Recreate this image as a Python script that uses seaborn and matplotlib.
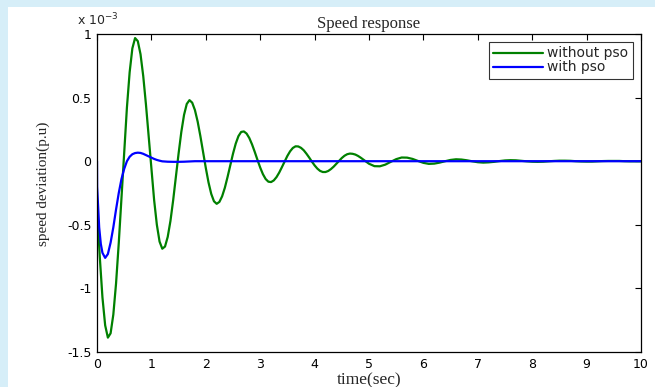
import matplotlib
matplotlib.use("Agg")
import matplotlib.pyplot as plt
import seaborn as sns
import pandas as pd
from matplotlib.patches import Rectangle

# ---- data (speed deviation in units of 1e-3 p.u.) ----
t_without = [0.00, 0.05, 0.10, 0.15, 0.20, 0.25, 0.30, 0.35, 0.40, 0.45,
             0.50, 0.55, 0.60, 0.65, 0.70, 0.75, 0.80, 0.85, 0.90, 0.95,
             1.00, 1.05, 1.10, 1.15, 1.20, 1.25, 1.30, 1.35, 1.40, 1.45,
             1.50, 1.55, 1.60, 1.65, 1.70, 1.75, 1.80, 1.85, 1.90, 1.95,
             2.00, 2.05, 2.10, 2.15, 2.20, 2.25, 2.30, 2.35, 2.40, 2.45,
             2.50, 2.55, 2.60, 2.65, 2.70, 2.75, 2.80, 2.85, 2.90, 2.95,
             3.00, 3.05, 3.10, 3.15, 3.20, 3.25, 3.30, 3.35, 3.40, 3.45,
             3.50, 3.55, 3.60, 3.65, 3.70, 3.75, 3.80, 3.85, 3.90, 3.95,
             4.00, 4.05, 4.10, 4.15, 4.20, 4.25, 4.30, 4.35, 4.40, 4.45,
             4.50, 4.55, 4.60, 4.65, 4.70, 4.75, 4.80, 4.85, 4.90, 4.95,
             5.00, 5.10, 5.20, 5.30, 5.40, 5.50, 5.60, 5.70, 5.80, 5.90,
             6.00, 6.10, 6.20, 6.30, 6.40, 6.50, 6.60, 6.70, 6.80, 6.90,
             7.00, 7.10, 7.20, 7.30, 7.40, 7.50, 7.60, 7.70, 7.80, 7.90,
             8.00, 8.10, 8.20, 8.30, 8.40, 8.50, 8.60, 8.70, 8.80, 8.90,
             9.00, 9.10, 9.20, 9.30, 9.40, 9.50, 9.60, 9.70, 9.80, 9.90,
             10.00]
v_without = [-0.350, -0.745, -1.070, -1.290, -1.387, -1.353, -1.206, -0.962, -0.644, -0.284,
             0.084, 0.422, 0.699, 0.887, 0.968, 0.944, 0.841, 0.669, 0.445, 0.192,
             -0.067, -0.305, -0.499, -0.632, -0.688, -0.671, -0.595, -0.470, -0.307, -0.123,
             0.061, 0.230, 0.364, 0.450, 0.480, 0.460, 0.402, 0.312, 0.198, 0.073,
             -0.053, -0.167, -0.257, -0.315, -0.335, -0.320, -0.276, -0.209, -0.124, -0.031,
             0.059, 0.138, 0.197, 0.230, 0.234, 0.217, 0.182, 0.132, 0.073, 0.010,
             -0.050, -0.102, -0.140, -0.161, -0.164, -0.151, -0.125, -0.089, -0.046, -0.001,
             0.042, 0.078, 0.104, 0.117, 0.116, 0.105, 0.086, 0.059, 0.029, -0.003,
             -0.033, -0.058, -0.076, -0.085, -0.085, -0.077, -0.062, -0.043, -0.020, 0.003,
             0.025, 0.043, 0.055, 0.060, 0.058, 0.052, 0.041, 0.027, 0.011, -0.005,
             -0.020, -0.039, -0.040, -0.027, -0.005, 0.016, 0.029, 0.028, 0.018, 0.002,
             -0.013, -0.021, -0.019, -0.011, 0.000, 0.010, 0.015, 0.013, 0.007, -0.001,
             -0.008, -0.011, -0.009, -0.005, 0.001, 0.006, 0.008, 0.007, 0.003, -0.001,
             -0.004, -0.005, -0.004, -0.001, 0.002, 0.004, 0.004, 0.003, 0.000, -0.002,
             -0.003, -0.003, -0.001, 0.001, 0.002, 0.002, 0.002, 0.000, -0.001, -0.001,
             -0.001]

t_with = [0.000, 0.002, 0.020, 0.040, 0.070, 0.100, 0.150, 0.200, 0.250, 0.300,
          0.350, 0.400, 0.450, 0.500, 0.550, 0.600, 0.650, 0.700, 0.750, 0.800,
          0.850, 0.900, 0.950, 1.000, 1.050, 1.100, 1.150, 1.200, 1.300, 1.400,
          1.500, 1.600, 1.700, 1.800, 2.500, 4.000, 6.000, 8.000, 10.000]
v_with = [0.000, -0.200, -0.350, -0.520, -0.650, -0.720, -0.760, -0.730, -0.640, -0.520,
          -0.380, -0.250, -0.140, -0.060, 0.000, 0.035, 0.055, 0.064, 0.067, 0.065,
          0.058, 0.048, 0.038, 0.028, 0.018, 0.010, 0.004, -0.001, -0.004, -0.005,
          -0.005, -0.004, -0.002, 0.000, 0.000, 0.000, 0.000, 0.000, 0.000]

x_ticks = [0, 1, 2, 3, 4, 5, 6, 7, 8, 9, 10]
y_ticks = [-1.5, -1, -0.5, 0, 0.5, 1]
y_tick_labels = ["-1.5", "-1", "-0.5", "0", "0.5", "1"]
series_names = ["without pso", "with pso"]

# ---- style ----
sns.set_style("white")
plt.rcParams["font.family"] = ["DejaVu Sans"]
plt.rcParams["axes.unicode_minus"] = False
SERIF = ["Liberation Serif", "DejaVu Serif"]

fig = plt.figure(figsize=(6.55, 3.87), dpi=100, facecolor="white")
# light-blue slide background strips
fig.patches.append(Rectangle((0, 1 - 7 / 387), 1, 7 / 387, transform=fig.transFigure,
                             facecolor="#d6eef8", edgecolor="none", zorder=0))
fig.patches.append(Rectangle((0, 0), 8 / 655, 1, transform=fig.transFigure,
                             facecolor="#d6eef8", edgecolor="none", zorder=0))

ax = fig.add_axes([97 / 655, 1 - 352 / 387, (641 - 97) / 655, (352 - 34) / 387])

df_g = pd.DataFrame({"t": t_without, "v": v_without})
df_b = pd.DataFrame({"t": t_with, "v": v_with})
sns.lineplot(data=df_g, x="t", y="v", ax=ax, color="#008000", linewidth=1.6,
             label=series_names[0], estimator=None, sort=False)
sns.lineplot(data=df_b, x="t", y="v", ax=ax, color="#0000ff", linewidth=1.6,
             label=series_names[1], estimator=None, sort=False)

ax.set_xlim(0, 10)
ax.set_ylim(-1.5, 1)
ax.set_xticks(x_ticks)
ax.set_xticklabels([str(v) for v in x_ticks])
ax.set_yticks(y_ticks)
ax.set_yticklabels(y_tick_labels)
ax.tick_params(direction="in", length=4, width=0.8, top=True, right=True,
               labelsize=9, colors="black", pad=4)
for s in ax.spines.values():
    s.set_visible(True)
    s.set_color("black")
    s.set_linewidth(0.9)

ax.set_title("Speed response", family=SERIF, fontsize=12, pad=4)
ax.set_xlabel("time(sec)", family=SERIF, fontsize=12.5, labelpad=1)
ax.set_ylabel("speed deviation(p.u)", family=SERIF, fontsize=11)
ax.yaxis.set_label_coords(-0.086, 0.528)

fig.text(77 / 655, 1 - 20 / 387, r"x 10$^{-3}$", fontsize=9, va="center", ha="left")

leg = ax.legend(loc="upper right", fontsize=10, frameon=True, fancybox=False,
                edgecolor="black", borderpad=0.3, handlelength=3.6, handletextpad=0.3,
                labelspacing=0.0, borderaxespad=0.6)
leg.get_frame().set_linewidth(0.8)

fig.savefig("out.png", dpi=100, facecolor=fig.get_facecolor())
